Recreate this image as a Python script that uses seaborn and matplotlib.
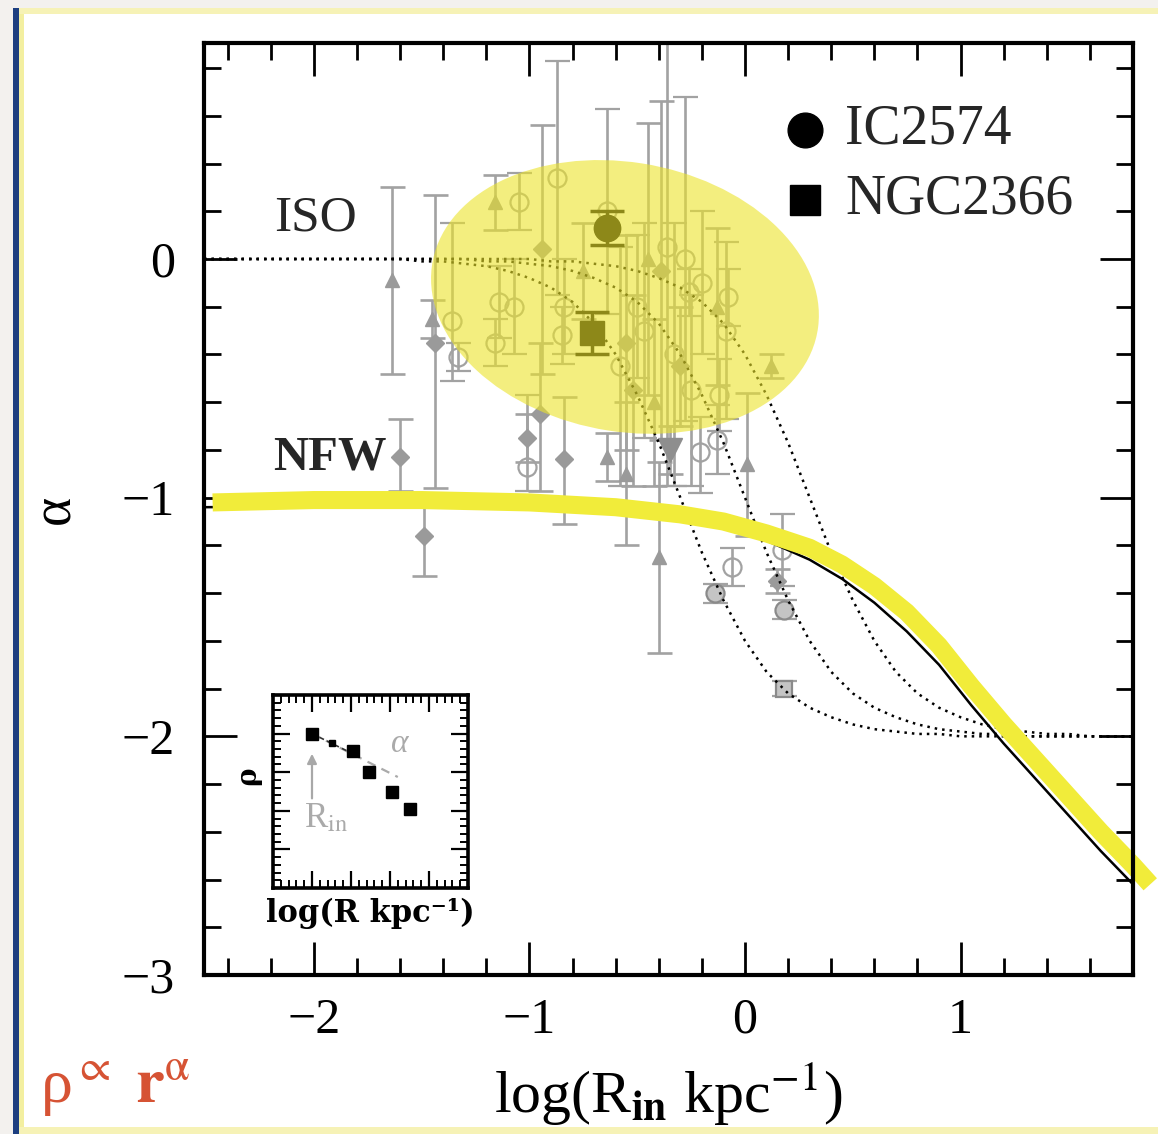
import matplotlib
matplotlib.use("Agg")
import numpy as np
import pandas as pd
import matplotlib.pyplot as plt
from matplotlib.patches import Ellipse, Rectangle, FancyArrowPatch
from matplotlib.ticker import MultipleLocator
import seaborn as sns

# ---------------- model curves: inner slope alpha vs log R_in ----------------
iso_x = [-2.51, -1.6, -1.5, -1.4, -1.3, -1.2, -1.1, -1.0, -0.9, -0.8, -0.7, -0.6,
         -0.5, -0.4, -0.3, -0.2, -0.1, 0.0, 0.1, 0.2, 0.3, 0.4, 0.5, 0.6, 0.7, 0.8,
         0.9, 1.0, 1.1, 1.2, 1.3, 1.4, 1.5, 1.6, 1.7, 1.8]
iso_small_core = [0.00, 0.00, -0.01, -0.01, -0.02, -0.03, -0.05, -0.08, -0.12, -0.18,
                  -0.27, -0.40, -0.57, -0.77, -1.00, -1.23, -1.43, -1.60, -1.73, -1.82,
                  -1.88, -1.92, -1.95, -1.97, -1.98, -1.99, -1.99, -2.00, -2.00, -2.00,
                  -2.00, -2.00, -2.00, -2.00, -2.00, -2.00]
iso_mid_core = [0.00, 0.00, 0.00, 0.00, 0.00, -0.01, -0.01, -0.02, -0.03, -0.05,
                -0.08, -0.12, -0.18, -0.27, -0.40, -0.57, -0.77, -1.00, -1.23, -1.43,
                -1.60, -1.73, -1.82, -1.88, -1.92, -1.95, -1.97, -1.98, -1.99, -1.99,
                -2.00, -2.00, -2.00, -2.00, -2.00, -2.00]
iso_large_core = [0.00, 0.00, 0.00, 0.00, 0.00, 0.00, 0.00, 0.00, -0.01, -0.01,
                  -0.02, -0.03, -0.05, -0.08, -0.12, -0.18, -0.27, -0.40, -0.57, -0.77,
                  -1.00, -1.23, -1.43, -1.60, -1.73, -1.82, -1.88, -1.92, -1.95, -1.97,
                  -1.98, -1.99, -1.99, -2.00, -2.00, -2.00]

nfw_band_x = [-2.47, -2.0, -1.5, -1.0, -0.6, -0.3, -0.1, 0.1, 0.3, 0.45, 0.6, 0.75,
              0.9, 1.05, 1.2, 1.35, 1.5, 1.65, 1.8, 1.88]
nfw_band_y = [-1.02, -1.01, -1.01, -1.02, -1.04, -1.07, -1.10, -1.15, -1.21, -1.28,
              -1.37, -1.48, -1.62, -1.79, -1.95, -2.10, -2.25, -2.40, -2.54, -2.62]
nfw_line_x = [-2.51, -1.5, -1.0, -0.5, -0.1, 0.1, 0.3, 0.45, 0.6, 0.75, 0.9, 1.05,
              1.2, 1.35, 1.5, 1.65, 1.8]
nfw_line_y = [-1.04, -1.03, -1.04, -1.06, -1.12, -1.18, -1.26, -1.34, -1.44, -1.56,
              -1.70, -1.87, -2.03, -2.18, -2.33, -2.48, -2.62]

# ---------------- galaxy sample (grey) ----------------
gal_x = [-1.64, -1.60, -1.49, -1.44, -1.45, -1.36, -1.33, -1.16, -1.05, -1.14, -1.07,
         -1.16, -0.94, -0.87, -0.85, -0.84, -1.01, -1.01, -0.95, -0.84, -0.64, -0.55,
         -0.40, -0.21, -0.13, 0.01, -0.06, 0.17, 0.15, 0.12, -0.64, -0.45, -0.39,
         -0.36, -0.28, -0.20, -0.13, -0.09, -0.12, -0.08, -0.26, -0.50, -0.55, -0.30,
         -0.75, -0.14, 0.18, 0.18, -0.35, -0.58, -0.52, -0.47, -0.42, -0.33, -0.25]
gal_y = [-0.09, -0.83, -1.16, -0.35, -0.25, -0.26, -0.41, 0.24, 0.24, -0.18, -0.20,
         -0.35, 0.04, 0.34, -0.32, -0.20, -0.87, -0.75, -0.65, -0.84, -0.83, -0.90,
         -1.25, -0.81, -0.76, -0.86, -1.29, -1.22, -1.35, -0.45, 0.20, 0.00, -0.05,
         0.05, 0.00, -0.10, -0.20, -0.30, -0.57, -0.16, -0.14, -0.20, -0.35, -0.45,
         -0.05, -1.40, -1.47, -1.80, -0.80, -0.45, -0.55, -0.30, -0.60, -0.40, -0.55]
gal_err_lo = [0.39, 0.14, 0.17, 0.61, 0.08, 0.25, 0.06, 0.12, 0.12, 0.15, 0.20,
              0.10, 0.52, 0.49, 0.12, 0.20, 0.10, 0.10, 0.32, 0.27, 0.10, 0.30,
              0.40, 0.17, 0.14, 0.30, 0.08, 0.15, 0.05, 0.05, 0.43, 0.57, 0.71,
              1.00, 0.68, 0.30, 0.33, 0.37, 0.15, 0.12, 0.10, 0.30, 0.45, 0.25,
              0.20, 0.04, 0.04, 0.03, 0.10, 0.50, 0.40, 0.45, 0.35, 0.55, 0.40]
gal_err_hi = [0.39, 0.16, 0.12, 0.62, 0.08, 0.41, 0.06, 0.11, 0.12, 0.15, 0.20,
              0.10, 0.52, 0.49, 0.12, 0.20, 0.30, 0.10, 0.30, 0.26, 0.10, 0.30,
              0.40, 0.15, 0.15, 0.30, 0.08, 0.15, 0.05, 0.05, 0.43, 0.57, 0.71,
              1.00, 0.68, 0.30, 0.33, 0.37, 0.15, 0.12, 0.10, 0.30, 0.45, 0.25,
              0.20, 0.04, 0.04, 0.03, 0.10, 0.50, 0.40, 0.45, 0.35, 0.55, 0.40]
gal_kind = ["tri", "dia", "dia", "dia", "tri", "open", "open", "tri", "open", "open", "open",
            "open", "dia", "open", "open", "open", "open", "dia", "dia", "dia", "tri", "tri",
            "tri", "open", "open", "tri", "open", "open", "dia", "tri", "open", "tri", "dia",
            "open", "open", "open", "tri", "open", "open", "open", "open", "open", "dia", "dia",
            "tri", "hatch", "hatch", "hsq", "blob", "open", "dia", "open", "tri", "open",
            "open"]

# ---------------- highlighted dwarfs ----------------
ic2574 = (-0.64, 0.13, 0.07)
ngc2366 = (-0.71, -0.31, 0.09)

# ---------------- inset: schematic density profile ----------------
inset_x = [0.20, 0.30, 0.41, 0.49, 0.61, 0.70]
inset_y = [0.80, 0.75, 0.71, 0.60, 0.50, 0.41]
inset_size = [8, 5, 8, 8, 8, 8]

sns.set_theme(style="white")
plt.rcParams["font.family"] = ["Liberation Serif", "DejaVu Serif"]
plt.rcParams["mathtext.fontset"] = "stix"
plt.rcParams["axes.unicode_minus"] = True

W, H = 1158, 1134
fig = plt.figure(figsize=(W / 100, H / 100), dpi=100)
fig.patch.set_facecolor("white")

# slide frame
def fig_rect(x0, y0, x1, y1, color):
    fig.patches.append(Rectangle((x0 / W, 1 - y1 / H), (x1 - x0) / W, (y1 - y0) / H,
                                 transform=fig.transFigure, color=color, zorder=0,
                                 lw=0))

fig_rect(0, 0, W, 8, "#F3F1EE")
fig_rect(0, 0, 13, H, "#F3F1EE")
fig_rect(13, 8, 19, H, "#1D3F80")
fig_rect(19, 8, 24, H, "#F3EFA0")
fig_rect(19, 8, W, 14, "#F6F2B6")
fig_rect(19, H - 7, W, H, "#F6F2B6")

ax = fig.add_axes([204 / W, 1 - 975 / H, 929 / W, 932 / H])
ax.set_facecolor("white")

# grey sample with error bars
grey = "#A2A2A2"
styles = {
    "open": dict(fmt="o", mfc="none", mec=grey, ms=13, mew=1.6),
    "dia": dict(fmt="D", mfc="#9A9A9A", mec="#9A9A9A", ms=9),
    "tri": dict(fmt="^", mfc="#9A9A9A", mec="#9A9A9A", ms=10),
    "hatch": dict(fmt="o", mfc="#C4C4C4", mec="#8A8A8A", ms=13, mew=1.6),
    "hsq": dict(fmt="s", mfc="#C4C4C4", mec="#8A8A8A", ms=12, mew=1.6),
    "blob": dict(fmt="v", mfc="#8E8E8E", mec="#8E8E8E", ms=17),
}
gx = np.array(gal_x); gy = np.array(gal_y)
glo = np.array(gal_err_lo); ghi = np.array(gal_err_hi)
gk = np.array(gal_kind)
for kind, st in styles.items():
    m = gk == kind
    if not m.any():
        continue
    ax.errorbar(gx[m], gy[m], yerr=[glo[m], ghi[m]], ecolor=grey, elinewidth=1.9,
                capsize=9, capthick=1.9, zorder=2, **st)

# highlighted galaxies (under the shaded region)
ax.errorbar([ic2574[0]], [ic2574[1]], yerr=[[ic2574[2]], [ic2574[2]]], fmt="o",
            color="black", ms=19, elinewidth=2.5, capsize=12, capthick=2.5, zorder=3)
ax.errorbar([ngc2366[0]], [ngc2366[1]], yerr=[[ngc2366[2]], [ngc2366[2]]], fmt="s",
            color="black", ms=17, elinewidth=2.5, capsize=12, capthick=2.5, zorder=3)

# ISO curves (dotted)
iso_df = pd.DataFrame({
    "x": iso_x * 3,
    "alpha": iso_small_core + iso_mid_core + iso_large_core,
    "curve": ["small"] * len(iso_x) + ["mid"] * len(iso_x) + ["large"] * len(iso_x),
})
sns.lineplot(data=iso_df, x="x", y="alpha", units="curve", estimator=None, sort=False,
             color="black", lw=1.8, linestyle=(0, (1, 2.0)), ax=ax, zorder=3,
             legend=False)

# shaded region of observed dwarfs
ax.add_patch(Ellipse((-0.557, -0.159), width=1.81, height=1.13, angle=-8,
                     facecolor="#ECE42A", alpha=0.6, edgecolor="none", zorder=4))

# NFW: thin black curve and thick highlight
sns.lineplot(x=nfw_line_x, y=nfw_line_y, sort=False, estimator=None, color="black",
             lw=1.8, ax=ax, zorder=5)
sns.lineplot(x=nfw_band_x, y=nfw_band_y, sort=False, estimator=None, color="#F1EC3A",
             lw=13, ax=ax, zorder=6, clip_on=False, solid_capstyle="butt",
             solid_joinstyle="round")

ax.set_xlim(-2.51, 1.80)
ax.set_ylim(-3.0, 0.905)
ax.xaxis.set_major_locator(MultipleLocator(1))
ax.xaxis.set_minor_locator(MultipleLocator(0.2))
ax.yaxis.set_major_locator(MultipleLocator(1))
ax.yaxis.set_minor_locator(MultipleLocator(0.2))
ax.tick_params(which="major", direction="in", length=24, width=2, top=True,
               right=True, bottom=True, left=True, labelsize=36, color="black",
               labelcolor="black")
ax.tick_params(which="minor", direction="in", length=12, width=2, top=True,
               right=True, bottom=True, left=True, color="black")
ax.tick_params(axis="x", which="major", pad=16)
ax.tick_params(axis="y", which="major", pad=21)
for s in ax.spines.values():
    s.set_linewidth(3)
    s.set_color("black")
    s.set_zorder(7)

ax.set_xlabel(r"log(R$_{\mathbf{in}}$ kpc$^{-1}$)", fontsize=43, color="black")
ax.xaxis.set_label_coords(0.5, -0.090)
ax.set_ylabel("α", fontsize=40, color="black")
ax.yaxis.set_label_coords(-0.132, 0.5)

ax.text(-1.995, 0.172, "ISO", fontsize=37, ha="center", va="center", zorder=8)
ax.text(-1.926, -0.830, "NFW", fontsize=35, fontweight="bold", ha="center",
        va="center", zorder=8)

# key
ax.plot([0.647], [0.907], "o", color="black", ms=25, transform=ax.transAxes,
        clip_on=False, zorder=8)
ax.plot([0.647], [0.832], "s", color="black", ms=21, transform=ax.transAxes,
        clip_on=False, zorder=8)
ax.text(0.690, 0.907, "IC2574", fontsize=40, va="center", ha="left",
        transform=ax.transAxes, zorder=8)
ax.text(0.690, 0.832, "NGC2366", fontsize=40, va="center", ha="left",
        transform=ax.transAxes, zorder=8)

# inset
axi = fig.add_axes([273 / W, 1 - 888 / H, 195 / W, 193 / H])
axi.set_facecolor("white")
axi.set_xlim(0, 1)
axi.set_ylim(0, 1)
axi.xaxis.set_major_locator(MultipleLocator(0.2))
axi.xaxis.set_minor_locator(MultipleLocator(0.04))
axi.yaxis.set_major_locator(MultipleLocator(0.2))
axi.yaxis.set_minor_locator(MultipleLocator(0.04))
axi.tick_params(which="major", direction="in", length=12, width=1.6, top=True,
                right=True, bottom=True, left=True, labelbottom=False,
                labelleft=False, color="black")
axi.tick_params(which="minor", direction="in", length=6, width=1.4, top=True,
                right=True, bottom=True, left=True, color="black")
for s in axi.spines.values():
    s.set_linewidth(2.6)
    s.set_color("black")
axi.plot([0.20, 0.64], [0.80, 0.575], color="#AAAAAA", lw=1.6, ls=(0, (4, 3)))
axi.plot([0.20, 0.41], [0.80, 0.695], color="#333333", lw=1.2, ls=(0, (3, 2)))
for xx, yy, ss in zip(inset_x, inset_y, inset_size):
    axi.plot([xx], [yy], "s", color="black", ms=ss)
axi.add_patch(FancyArrowPatch((0.20, 0.45), (0.20, 0.71), arrowstyle="-|>",
                              mutation_scale=14, color="#A8A8A8", lw=1.6))
axi.text(0.65, 0.745, "α", fontsize=24, color="#AAAAAA", ha="center",
         va="center", style="italic")
axi.text(0.16, 0.36, r"R$_{\rm in}$", fontsize=25, color="#AAAAAA", ha="left",
         va="center")
axi.set_xlabel("log(R kpc⁻¹)", fontsize=22, fontweight="bold",
               family="DejaVu Serif", color="black", labelpad=4)
axi.set_ylabel("ρ", fontsize=20, fontweight="bold", family="DejaVu Serif",
               color="black", labelpad=2)
axi.yaxis.set_label_coords(-0.06, 0.58)

# profile definition
fig.text(40 / W, 1 - 1103 / H, r"ρ$^{\propto}$ $\mathbf{r}^{\mathrm{\alpha}}$",
         fontsize=46, color="#D65334", ha="left", va="baseline")

fig.savefig("out.png", dpi=100, facecolor=fig.get_facecolor())
